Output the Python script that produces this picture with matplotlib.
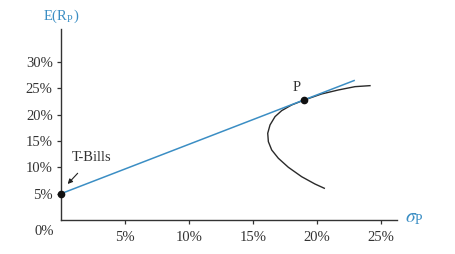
import matplotlib.pyplot as plt

# capital market line: T-bills to beyond the tangency portfolio P
cml_sigma = [0.0, 22.9]
cml_return = [5.0, 26.5]

# efficient frontier (sigma %, return %)
frontier_sigma = [24.14, 22.97, 21.67, 20.36, 19.01, 18.02, 17.24, 16.72, 16.33,
                  16.15, 16.20, 16.46, 16.98, 17.76, 18.80, 19.84, 20.57]
frontier_return = [25.53, 25.34, 24.71, 23.95, 22.81, 21.86, 20.78, 19.64, 18.06,
                   16.48, 14.89, 13.31, 11.73, 10.02, 8.23, 6.84, 6.03]

tbill = (0.0, 5.0)
tangency = (19.0, 22.8)

x_ticks = [5, 10, 15, 20, 25]
y_ticks = [5, 10, 15, 20, 25, 30]

blue = "#3b8ec4"
ink = "#333333"

plt.rcParams["font.family"] = ["Liberation Serif", "DejaVu Serif"]
plt.rcParams["mathtext.fontset"] = "stix"

fig = plt.figure(figsize=(4.56, 2.54), dpi=100)
ax = fig.add_axes([0.1338, 0.1339, 0.7368, 0.752])

ax.plot(frontier_sigma, frontier_return, color="#2a2a2a", lw=1.0)
ax.plot(cml_sigma, cml_return, color=blue, lw=1.1)
ax.plot(*tbill, "o", color="#111111", ms=4.5, clip_on=False, zorder=5)
ax.plot(*tangency, "o", color="#111111", ms=4.5, zorder=5)

ax.set_xlim(0, 26.25)
ax.set_ylim(0, 36.3)
ax.set_xticks(x_ticks)
ax.set_xticklabels([f"{t}%" for t in x_ticks])
ax.set_yticks(y_ticks)
ax.set_yticklabels([f"{t}%" for t in y_ticks])

for s in ["top", "right"]:
    ax.spines[s].set_visible(False)
for s in ["left", "bottom"]:
    ax.spines[s].set_color(ink)
    ax.spines[s].set_linewidth(1.0)
ax.tick_params(axis="both", colors=ink, labelsize=10.5, length=3, width=0.9)
ax.tick_params(axis="x", pad=5)
ax.tick_params(axis="y", pad=3)

ax.text(-0.55, -1.0, "0%", ha="right", va="top", fontsize=10.5, color=ink)
ax.text(0, 37.0, r"E(R$_\mathregular{P}$)", ha="center", va="bottom",
        fontsize=10.5, color=blue, clip_on=False)
ax.text(26.9, 0.2, r"$\sigma_\mathregular{P}$", ha="left", va="center",
        fontsize=14, color=blue, clip_on=False)

ax.annotate("T-Bills", xy=(0.52, 6.84), xytext=(2.42, 11.8),
            ha="center", va="center", fontsize=10.5, color=ink,
            arrowprops=dict(arrowstyle="-|>", color="#222222", lw=0.8,
                            mutation_scale=7, shrinkA=6, shrinkB=0))
ax.text(18.41, 25.2, "P", ha="center", va="center", fontsize=10.5, color=ink)

fig.savefig("out.png", dpi=100)
